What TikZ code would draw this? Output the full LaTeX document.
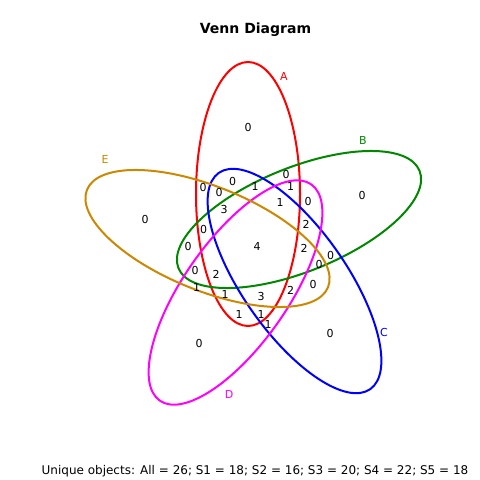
\documentclass[tikz,border=0pt]{standalone}
\usepackage{fontspec}
\setmainfont{DejaVu Sans}
\definecolor{vA}{RGB}{255,0,0}
\definecolor{vB}{RGB}{0,136,0}
\definecolor{vC}{RGB}{0,0,255}
\definecolor{vD}{RGB}{255,0,255}
\definecolor{vE}{RGB}{204,136,0}
\tikzset{
  vset/.style={line width=2bp},
  num/.style={inner sep=0pt, font=\fontsize{11bp}{13bp}\selectfont},
  setlab/.style={inner sep=0pt, font=\fontsize{11bp}{13bp}\selectfont},
}
\begin{document}
\begin{tikzpicture}[x=1bp,y=-1bp]
\useasboundingbox (0,0) rectangle (480,480);
\fill[white] (0,0) rectangle (480,480);
\draw[vset,vA,rotate around={90:(248,194)}] (248,194) ellipse [x radius=132bp, y radius=52bp];
\draw[vset,vB,rotate around={22:(299,219.5)}] (299,219.5) ellipse [x radius=130bp, y radius=52bp];
\draw[vset,vC,rotate around={-55:(294.5,281)}] (294.5,281) ellipse [x radius=132bp, y radius=52bp];
\draw[vset,vD,rotate around={55:(235.5,292.5)}] (235.5,292.5) ellipse [x radius=132bp, y radius=52bp];
\draw[vset,vE,rotate around={-22:(207.5,238.5)}] (207.5,238.5) ellipse [x radius=130bp, y radius=52bp];
% set labels
\node[setlab,text=vA] (lA) at (284,76) {A};
\node[setlab,text=vB] (lB) at (363,140) {B};
\node[setlab,text=vC] (lC) at (384,332) {C};
\node[setlab,text=vD] (lD) at (229,394) {D};
\node[setlab,text=vE] (lE) at (105,159) {E};
% region counts
\node[num] (r1) at (248,127) {0};
\node[num] (r2) at (362,195) {0};
\node[num] (r3) at (330,333) {0};
\node[num] (r4) at (199,343) {0};
\node[num] (r5) at (145,219) {0};
\node[num] (r6) at (203,187) {0};
\node[num] (r7) at (232.7,181.7) {0};
\node[num] (r8) at (219,192) {0};
\node[num] (r9) at (255,186) {1};
\node[num] (r10) at (286,174) {0};
\node[num] (r11) at (290.7,186.7) {1};
\node[num] (r12) at (280,202) {1};
\node[num] (r13) at (308,201) {0};
\node[num] (r14) at (224,209) {3};
\node[num] (r15) at (306,224) {2};
\node[num] (r16) at (203.7,229) {0};
\node[num] (r17) at (188,246) {0};
\node[num] (r18) at (257,246) {4};
\node[num] (r19) at (304,248) {2};
\node[num] (r20) at (330.7,255.7) {0};
\node[num] (r21) at (319,264) {0};
\node[num] (r22) at (195,270) {0};
\node[num] (r23) at (216,274) {2};
\node[num] (r24) at (313,284.7) {0};
\node[num] (r25) at (196.7,287) {1};
\node[num] (r26) at (225,294.7) {1};
\node[num] (r27) at (261,296.7) {3};
\node[num] (r28) at (290.7,290) {2};
\node[num] (r29) at (239,314) {1};
\node[num] (r30) at (261,314) {1};
\node[num] (r31) at (268,324) {1};
% title and footer
\node[inner sep=0pt, font=\fontsize{14bp}{16bp}\selectfont\bfseries] (title) at (255.5,30) {Venn Diagram};
\node[inner sep=0pt, font=\fontsize{12bp}{14bp}\selectfont] (foot) at (255,471) {Unique objects: All = 26; S1 = 18; S2 = 16; S3 = 20; S4 = 22; S5 = 18};
\end{tikzpicture}
\end{document}
